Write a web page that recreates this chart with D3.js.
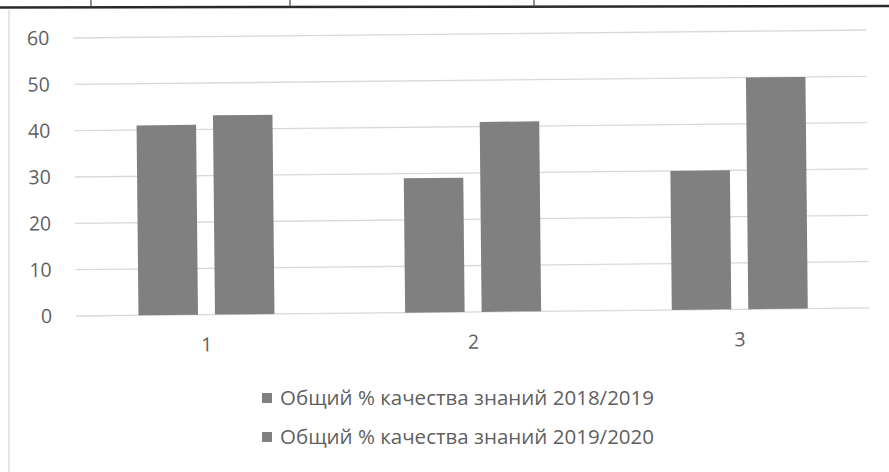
<!DOCTYPE html>
<html>
<head>
<meta charset="utf-8">
<script src="https://cdn.jsdelivr.net/npm/d3@7"></script>
<style>
  body { margin: 0; background: #fff; }
  text { font-family: "Open Sans", sans-serif; }
</style>
</head>
<body>
<div id="chart"></div>
<script>
// Chart data
const categories = ["1", "2", "3"];
const seriesNames = ["Общий % качества знаний 2018/2019", "Общий % качества знаний 2019/2020"];
const values2018 = [41, 29, 30];
const values2019 = [43, 41, 50];
const yTicks = [0, 10, 20, 30, 40, 50, 60];

const width = 889, height = 472;
const margin = { top: 34, right: 17, bottom: 160, left: 72 };

const svg = d3.select("#chart").append("svg").attr("width", width).attr("height", height);

// scan frame: table edge on top, faint border on the left
svg.append("line").attr("x1", 0).attr("x2", width).attr("y1", 7.5).attr("y2", 6)
    .attr("stroke", "#2a2a2a").attr("stroke-width", 2.5);
[91, 290, 534].forEach(x => {
    svg.append("line").attr("x1", x).attr("x2", x).attr("y1", 0).attr("y2", 7)
        .attr("stroke", "#444").attr("stroke-width", 1.2);
});
svg.append("line").attr("x1", 9).attr("x2", 9).attr("y1", 10).attr("y2", height)
    .attr("stroke", "#ddd").attr("stroke-width", 1.5);

// the scanned page is slightly tilted
const g = svg.append("g").attr("transform", "rotate(-0.58, 470, 200)");

const data = categories.map((c, i) => ({ cat: c, vals: [values2018[i], values2019[i]] }));

const x0 = d3.scaleBand().domain(categories).range([margin.left, width - margin.right])
    .paddingInner(0.49).paddingOuter(0.245);
const x1 = d3.scaleBand().domain([0, 1]).range([0, x0.bandwidth()]).paddingInner(0.222);
const y = d3.scaleLinear().domain([0, 60]).range([height - margin.bottom, margin.top]);

// gridlines
g.append("g").selectAll("line").data(yTicks).enter().append("line")
    .attr("x1", 75).attr("x2", 868)
    .attr("y1", d => y(d)).attr("y2", d => y(d))
    .attr("stroke", "#d9d9d9").attr("stroke-width", 1.3);

// y axis labels
const yAxis = g.append("g").attr("transform", `translate(51,0)`)
    .call(d3.axisLeft(y).tickValues(yTicks).tickSize(0).tickPadding(0));
yAxis.select(".domain").remove();
yAxis.selectAll("text").attr("font-size", 19.5).attr("fill", "#5f5f5f")
    .attr("font-family", "Open Sans, sans-serif");

// bars
const groups = g.selectAll("g.grp").data(data).enter().append("g").attr("class", "grp")
    .attr("transform", d => `translate(${x0(d.cat)},0)`);
groups.selectAll("rect").data(d => d.vals).enter().append("rect")
    .attr("x", (d, i) => x1(i))
    .attr("y", d => y(d))
    .attr("width", x1.bandwidth())
    .attr("height", d => y(0) - y(d))
    .attr("fill", "#808080");

// x axis labels
const xAxis = g.append("g").attr("transform", `translate(0, ${y(0) + 15})`)
    .call(d3.axisBottom(x0).tickSize(0).tickPadding(8));
xAxis.select(".domain").remove();
xAxis.selectAll("text").attr("font-size", 19.5).attr("fill", "#5f5f5f")
    .attr("font-family", "Open Sans, sans-serif");

// legend
const legend = svg.append("g");
seriesNames.forEach((name, i) => {
    const ly = 398 + i * 39;
    legend.append("rect").attr("x", 262).attr("y", ly - 5).attr("width", 10).attr("height", 10)
        .attr("fill", "#808080");
    legend.append("text").attr("x", 280).attr("y", ly).attr("dy", "0.35em")
        .attr("font-size", 20.5).attr("fill", "#5f5f5f").text(name);
});
</script>
</body>
</html>
